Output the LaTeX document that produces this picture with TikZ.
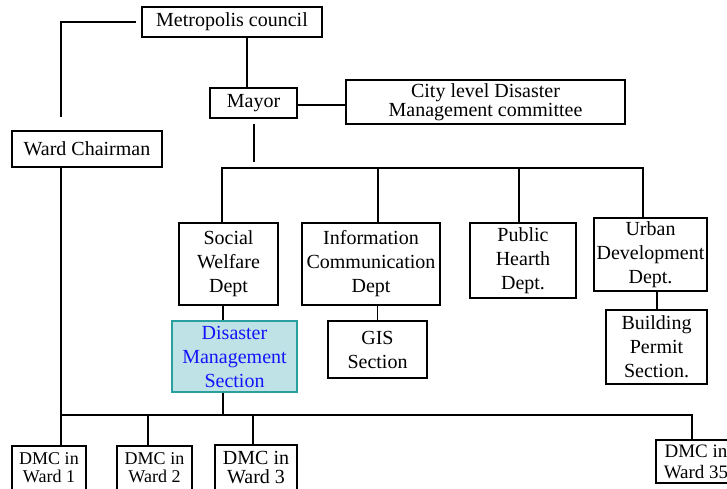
\documentclass[tikz,border=0pt]{standalone}
\usepackage{fontspec}
\setmainfont{Liberation Serif}
\usetikzlibrary{positioning}
\definecolor{dmsfill}{RGB}{190,226,230}
\definecolor{dmsline}{RGB}{40,160,160}
\definecolor{dmstext}{RGB}{20,20,250}
\tikzset{
  unit/.style={draw, line width=1.4pt, inner sep=1pt, align=center,
    font=\fontsize{20}{24}\selectfont},
  ward/.style={unit, font=\fontsize{18}{18}\selectfont},
  link/.style={line width=1.4pt}
}
\begin{document}
\begin{tikzpicture}[x=1pt, y=-1pt]
  \useasboundingbox (0,0) rectangle (727,488);
  \clip (0,0) rectangle (727,488);

  % upper levels
  \node[unit, minimum width=180, minimum height=30] (council) at (232,22) {Metropolis council};
  \node[unit, minimum width=150, minimum height=36] (chair) at (87,149) {Ward Chairman};
  \node[unit, minimum width=87, minimum height=30] (mayor) at (253.5,103) {Mayor};
  \node[unit, minimum width=279, minimum height=44, font=\fontsize{20}{17}\selectfont] (city) at (485.5,102) {City level Disaster\\Management committee};

  % departments
  \node[unit, minimum width=99, minimum height=82] (social) at (228.5,264) {Social\\Welfare\\Dept};
  \node[unit, minimum width=138, minimum height=82] (info) at (371,264) {Information\\Communication\\Dept};
  \node[unit, minimum width=106, minimum height=75] (health) at (523,260.5) {Public\\Hearth\\Dept.};
  \node[unit, minimum width=113, minimum height=73] (urban) at (650.5,254.5) {Urban\\Development\\Dept.};

  % sections
  \node[unit, minimum width=125, minimum height=71, draw=dmsline, fill=dmsfill, text=dmstext] (dms) at (234.5,356.5) {Disaster\\Management\\Section};
  \node[unit, minimum width=99, minimum height=57] (gis) at (377.5,349.5) {GIS\\Section};
  \node[unit, minimum width=101, minimum height=74] (permit) at (656.5,347) {Building\\Permit\\Section.};

  % ward committees
  \node[ward, minimum width=74, minimum height=44] (w1) at (49,468) {DMC in\\Ward 1};
  \node[ward, minimum width=75, minimum height=44] (w2) at (154.5,468) {DMC in\\Ward 2};
  \node[ward, minimum width=82, minimum height=46, font=\fontsize{20}{19}\selectfont] (w3) at (256,468) {DMC in\\Ward 3};
  \node[ward, minimum width=80, minimum height=43, font=\fontsize{19}{21}\selectfont] (w35) at (696,461.5) {DMC in\\Ward 35};

  % bus points
  \coordinate (dbusW) at (222,168);
  \coordinate (dbusE) at (643,168);
  \coordinate (wbusW) at (61,415);
  \coordinate (wbusE) at (692,415);

  % connectors
  \draw[link, shorten <=5pt, shorten >=13pt] (council.west) -| (chair.north -| wbusW);
  \draw[link] (council.south -| 247,0) -- (mayor.north -| 247,0);
  \draw[link] (mayor.east |- 0,105) -- (city.west |- 0,105);
  \draw[link, shorten <=5pt, shorten >=6pt] (mayor.south -| 254,0) -- (dbusW -| 254,0);
  \draw[link] (social.north -| dbusW) -- (dbusW) -- (dbusE) -- (urban.north -| dbusE);
  \draw[link] (dbusW -| 378,0) -- (info.north -| 378,0);
  \draw[link] (dbusW -| 519,0) -- (health.north -| 519,0);
  \draw[link] (social.south -| 223,0) -- (dms.north -| 223,0);
  \draw[link] (info.south -| gis) -- (gis.north);
  \draw[link] (urban.south -| 657,0) -- (permit.north -| 657,0);
  \draw[link] (dms.south -| 223,0) -- (wbusW -| 223,0);
  \draw[link] (chair.south -| wbusW) -- (w1.north -| wbusW);
  \draw[link] (wbusW) -- (wbusE) -- (w35.north -| wbusE);
  \draw[link] (wbusW -| 148,0) -- (w2.north -| 148,0);
  \draw[link] (wbusW -| 253,0) -- (w3.north -| 253,0);
\end{tikzpicture}
\end{document}
